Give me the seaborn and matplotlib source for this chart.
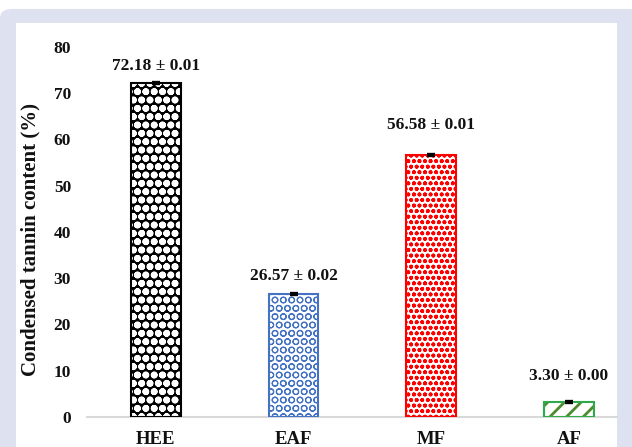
import matplotlib
matplotlib.use("Agg")
import matplotlib.pyplot as plt
from matplotlib.patches import FancyBboxPatch, Rectangle
import seaborn as sns
import pandas as pd

# Condensed tannin content of the extract and its fractions (mean ± SD)
fractions = ["HEE", "EAF", "MF", "AF"]
tannin_mean = [72.18, 26.57, 56.58, 3.30]
tannin_sd = [0.01, 0.02, 0.01, 0.00]
y_ticks = [0, 10, 20, 30, 40, 50, 60, 70, 80]

# Fill styling for each fraction's bar
face_colors = ["black", "white", "white", "white"]
hatch_colors = ["white", "#4472C4", "#FF0000", "#4E8A2E"]
edge_colors = ["black", "#4472C4", "#FF0000", "#2EAA4A"]
hatches = ["..oo", "OO", "ooo", "//"]
hatch_widths = [2.5, 0.8, 1.2, 2.0]
label_offsets = [12.5, 13, 22, 18.5]  # points above the bar top

sns.set_theme(style="white")
plt.rcParams["font.family"] = ["Liberation Serif", "DejaVu Serif"]
plt.rcParams["font.weight"] = "bold"

fig = plt.figure(figsize=(6.32, 4.47), dpi=100, facecolor="white")

# lavender frame with a white panel inside
frame = FancyBboxPatch((0.0, -0.2), 1.2, 0.2 + 0.98,
                       boxstyle="round,pad=0,rounding_size=0.02",
                       facecolor="#DEE1F0", edgecolor="none", zorder=-20)
panel = Rectangle((0.0253, -0.2), 0.9763 - 0.0253, 0.2 + 0.9485,
                  facecolor="white", edgecolor="none", zorder=-19)
fig.add_artist(frame)
fig.add_artist(panel)

ax = fig.add_axes([0.1377, 0.0671, 0.8386, 0.8278])
ax.set_facecolor("white")

df = pd.DataFrame({"fraction": fractions, "tannin": tannin_mean})
sns.barplot(data=df, x="fraction", y="tannin", color="white", width=0.36,
            errorbar=None, ax=ax)

bars = list(ax.patches)
centers = []
for p, fc, hc, ec, h, hw in zip(bars, face_colors, hatch_colors,
                                edge_colors, hatches, hatch_widths):
    p.set_facecolor(fc)
    p.set_edgecolor(hc)
    p.set_hatch(h)
    p.set_linewidth(0)
    if hasattr(p, "set_hatch_linewidth"):
        p.set_hatch_linewidth(hw)
    p.set_zorder(2)
    ax.add_patch(Rectangle(p.get_xy(), p.get_width(), p.get_height(),
                           fill=False, edgecolor=ec, linewidth=1.5, zorder=3))
    centers.append(p.get_x() + p.get_width() / 2)

ax.errorbar(centers, tannin_mean, yerr=tannin_sd, fmt="none", ecolor="black",
            elinewidth=1.5, capsize=3, capthick=3, zorder=5)

for xc, m, s, off in zip(centers, tannin_mean, tannin_sd, label_offsets):
    ax.annotate(f"{m:.2f} ± {s:.2f}", xy=(xc, m), xytext=(0, off),
                textcoords="offset points", ha="center", va="center",
                fontsize=12.5, fontweight="bold", color="#111111")

ax.set_ylim(0, 80)
ax.set_xlim(-0.5, 3.35)
ax.set_yticks(y_ticks)
ax.set_yticklabels([str(t) for t in y_ticks])
ax.tick_params(axis="y", length=0, pad=11.5, labelsize=12.5, labelcolor="#111111")
ax.tick_params(axis="x", length=0, pad=10, labelsize=13.5, labelcolor="#111111")
ax.set_xlabel("")
ax.set_ylabel("Condensed tannin content (%)", fontsize=15, fontweight="bold",
              color="#111111")
ax.yaxis.set_label_coords(-0.088, 0.48)

for side in ["left", "top", "right"]:
    ax.spines[side].set_visible(False)
ax.spines["bottom"].set_color("#D9D9D9")
ax.spines["bottom"].set_linewidth(1.5)

fig.savefig("out.png", dpi=100, facecolor="white")
